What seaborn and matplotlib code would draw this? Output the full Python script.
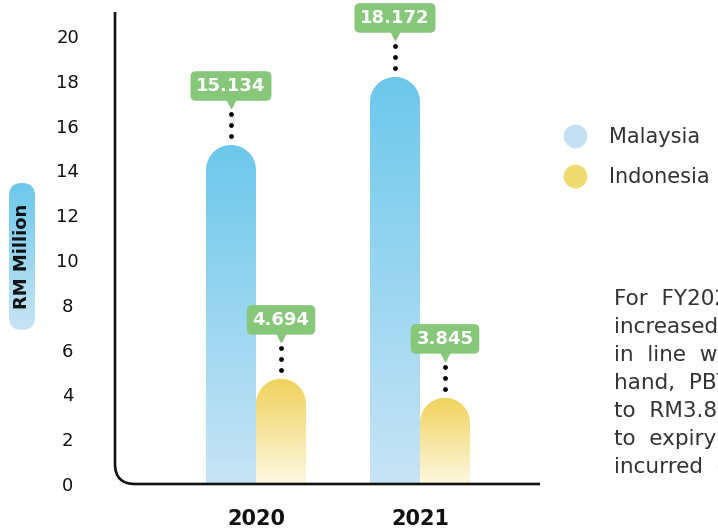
import numpy as np
import pandas as pd
import matplotlib
matplotlib.use('Agg')
import matplotlib.pyplot as plt
import seaborn as sns
from matplotlib.path import Path
from matplotlib.patches import PathPatch, FancyBboxPatch
from matplotlib.lines import Line2D
from matplotlib.colors import to_rgb
from matplotlib.transforms import IdentityTransform

# data
years = ['2020', '2021']
countries = ['Malaysia', 'Indonesia']
malaysia = [15.134, 18.172]
indonesia = [4.694, 3.845]
yticks = list(range(0, 21, 2))

note_lines = [
    'For  FY2021,  PBT  for  Malaysia',
    'increased  to  RM18.2  million,',
    'in  line  with  higher  revenue.',
    'hand,  PBT  for  Indonesia',
    'to  RM3.8  million  mainly  due',
    'to  expiry  of  contracts  and',
    'incurred  during  the  year.',
]

# colours
bar_top = {'Malaysia': '#6CC8EB', 'Indonesia': '#F0D25A'}
bar_bot = {'Malaysia': '#C8E4F6', 'Indonesia': '#FDF8E1'}
legend_col = {'Malaysia': '#C4E0F3', 'Indonesia': '#EEDB70'}
green = '#86C77A'

W, H = 718, 531
sns.set_style('white')
plt.rcParams['font.family'] = ['DejaVu Sans']

fig = plt.figure(figsize=(W / 100, H / 100), dpi=100)
L, R, T, B = 115, 540, 12, 484
ax = fig.add_axes([L / W, (H - B) / H, (R - L) / W, (B - T) / H])

df = pd.DataFrame({
    'year': years * 2,
    'country': ['Malaysia'] * 2 + ['Indonesia'] * 2,
    'value': malaysia + indonesia,
})

sns.barplot(data=df, x='year', y='value', hue='country', hue_order=countries,
            palette=legend_col, saturation=1, width=0.61, errorbar=None,
            legend=False, ax=ax)

ppx = 164.0   # px per x unit
ppy = 22.4    # px per y unit
x_left = -141 / ppx
ax.set_xlim(x_left, x_left + (R - L) / ppx)
ax.set_ylim(0, (B - T) / ppy)


def grad(top, bot, n=256):
    t = np.linspace(0, 1, n)[:, None]
    c = (1 - t) * np.array(to_rgb(top)) + t * np.array(to_rgb(bot))
    return c[:, None, :]


bars = [p for p in ax.patches if p.get_height() > 0]
for i, p in enumerate(bars):
    name = countries[i // len(years)]
    x0, w, h = p.get_x(), p.get_width(), p.get_height()
    xc = x0 + w / 2
    ry = (w * ppx / 2) / ppy
    th = np.linspace(0, np.pi, 60)
    verts = [(x0, 0), (x0 + w, 0), (x0 + w, h - ry)]
    verts += list(zip(xc + w / 2 * np.cos(th), h - ry + ry * np.sin(th)))
    verts += [(x0, 0)]
    codes = [Path.MOVETO] + [Path.LINETO] * (len(verts) - 2) + [Path.CLOSEPOLY]
    pp = PathPatch(Path(verts, codes), fc='none', ec='none', transform=ax.transData)
    ax.add_patch(pp)
    im = ax.imshow(grad(bar_top[name], bar_bot[name]), extent=[x0, x0 + w, 0, h],
                   origin='upper', aspect='auto', zorder=2, interpolation='bilinear')
    im.set_clip_path(pp)
    p.set_visible(False)

    # value label
    ax.annotate(f'{h:.3f}', xy=(xc, h), xytext=(0, 59 * 0.72), textcoords='offset points',
                ha='center', va='center', color='white', fontsize=13, fontweight='bold',
                bbox=dict(boxstyle='round,pad=0.32,rounding_size=0.3', fc=green, ec='none'),
                zorder=5)
    ax.plot([xc], [h + 43 / ppy], marker='v', ms=8, color=green, ls='none', zorder=4)
    ax.scatter([xc] * 3, h + np.array([9, 20, 31]) / ppy, s=12, color='black', zorder=4,
               linewidths=0)

ax.set_xlim(x_left, x_left + (R - L) / ppx)
ax.set_ylim(0, (B - T) / ppy)
ax.set_yticks(yticks)
ax.set_xlabel('')
ax.set_ylabel('')
for s in ax.spines.values():
    s.set_visible(False)
ax.tick_params(axis='y', length=0, pad=34, labelsize=13, labelcolor='#111111')
for lab in ax.get_yticklabels():
    lab.set_horizontalalignment('center')
ax.tick_params(axis='x', length=0, pad=18, labelsize=15, labelcolor='#111111')
for lab in ax.get_xticklabels():
    lab.set_fontweight('bold')

# axis lines with rounded corner
av = [(L, H - T), (L, H - B + 20), (L, H - B), (L + 20, H - B), (R, H - B)]
ac = [Path.MOVETO, Path.LINETO, Path.CURVE3, Path.CURVE3, Path.LINETO]
fig.add_artist(PathPatch(Path(av, ac), fill=False, lw=1.9, ec='#111111',
                         transform=IdentityTransform(), zorder=3))

# y label pill
pax = fig.add_axes([9 / W, (H - 330) / H, 26 / W, 147 / H])
pax.axis('off')
pill = FancyBboxPatch((9, H - 330), 26, 147, boxstyle='round,pad=0,rounding_size=13',
                      transform=IdentityTransform())
pim = pax.imshow(grad('#6CC8EB', '#C8E4F6'), extent=[0, 1, 0, 1], aspect='auto',
                 origin='upper', interpolation='bilinear')
pim.set_clip_path(pill)
fig.text(22 / W, 1 - 256 / H, 'RM Million', rotation=90, ha='center', va='center',
         fontsize=13, fontweight='bold', color='#111111')

# legend
handles = [Line2D([], [], marker='o', ls='none', ms=17, mfc=legend_col[c], mec='none')
           for c in countries]
fig.legend(handles, countries, loc='center left', bbox_to_anchor=(565 / W, 1 - 157 / H),
           frameon=False, fontsize=15, handlelength=1.0, handletextpad=1.1,
           labelspacing=0.95, borderpad=0, borderaxespad=0, labelcolor='#333333')

# side note (cut off at the right edge, as in the source)
for i, line in enumerate(note_lines):
    fig.text(614 / W, 1 - (299 + 28 * i) / H, line, ha='left', va='center',
             fontsize=15.5, color='#333333')

fig.savefig('out.png', dpi=100)
